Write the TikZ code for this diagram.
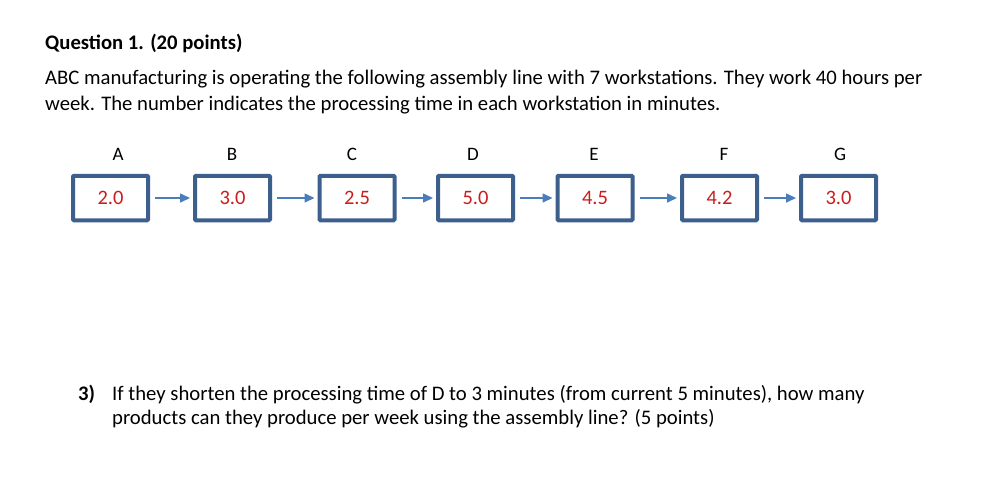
\documentclass[tikz,border=0pt]{standalone}
\usepackage{fontspec}
\setmainfont{Carlito}
\usetikzlibrary{arrows.meta}
\definecolor{boxblue}{HTML}{3D5F8C}
\definecolor{arrblue}{HTML}{4A7EBB}
\definecolor{numred}{HTML}{C81E1E}
\tikzset{
  txt/.style={anchor=base west, inner sep=0pt, font=\fontsize{20.7}{24}\selectfont},
  station/.style={draw=boxblue, line width=4pt, rounded corners=1pt, minimum width=75pt, minimum height=44.5pt, inner sep=0pt, text=numred, font=\fontsize{20.5}{22}\selectfont},
  lbl/.style={inner sep=0pt, font=\fontsize{19}{20}\selectfont},
  arr/.style={draw=arrblue, line width=1.6pt, -{Triangle[length=10pt,width=9pt]}, shorten <=5pt, shorten >=3pt}
}
\begin{document}
\begin{tikzpicture}[x=1pt,y=-1pt]
\useasboundingbox[fill=white] (0,0) rectangle (983,491);
\node[txt, font=\fontsize{20.7}{24}\selectfont\bfseries] (title) at (45,49) {Question 1. (20 points)};
\node[txt] (l1) at (45,84) {ABC manufacturing is operating the following assembly line with 7 workstations. They work 40 hours per};
\node[txt] (l2) at (45,110) {week. The number indicates the processing time in each workstation in minutes.};
\foreach \n/\x/\lx/\v/\l in {a/110.5/118/2.0/A, b/232.5/232/3.0/B, c/357/352/2.5/C, d/475.5/473/5.0/D, e/595/594/4.5/E, f/719.5/724/4.2/F, g/838.5/840/3.0/G}{
  \node[station] (\n) at (\x,198) {\v};
  \node[lbl] (l\n) at (\lx,154) {\l};
}
\draw[arr] (a) -- (b);
\draw[arr] (b) -- (c);
\draw[arr] (c) -- (d);
\draw[arr] (d) -- (e);
\draw[arr] (e) -- (f);
\draw[arr] (f) -- (g);
\node[txt, font=\fontsize{20.7}{24}\selectfont\bfseries] (q3) at (78,400) {3)};
\node[txt] (q3a) at (112,400) {If they shorten the processing time of D to 3 minutes (from current 5 minutes), how many};
\node[txt] (q3b) at (112,424) {products can they produce per week using the assembly line? (5 points)};
\end{tikzpicture}
\end{document}
